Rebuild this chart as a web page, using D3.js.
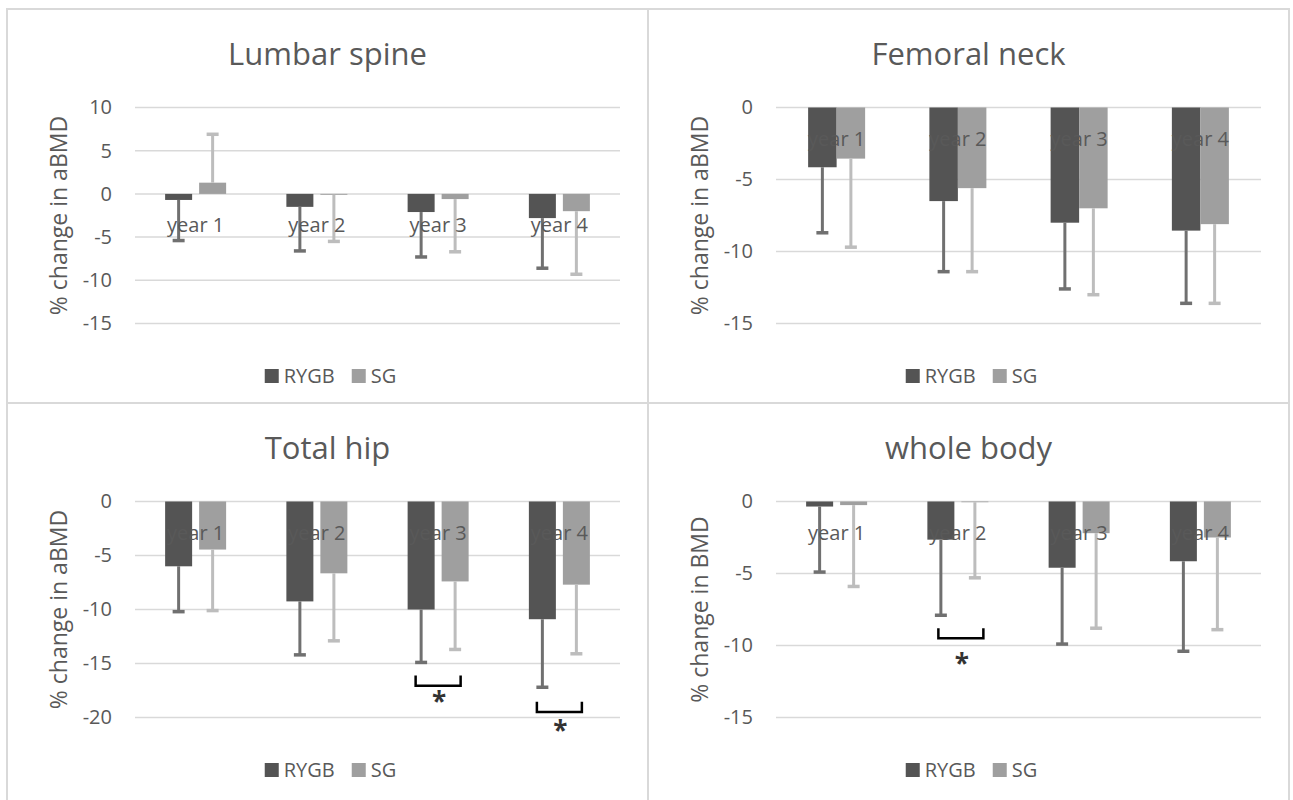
<!DOCTYPE html>
<html>
<head>
<meta charset="utf-8">
<script src="https://cdn.jsdelivr.net/npm/d3@7"></script>
<style>
  body { margin: 0; background: #fff; }
  text { font-family: "Open Sans", sans-serif; fill: #595959; }
</style>
</head>
<body>
<div id="chart"></div>
<script>
var svgWidth = 1293;
var svgHeight = 800;

// Categories and series
var years = ["year 1", "year 2", "year 3", "year 4"];
var seriesNames = ["RYGB", "SG"];

// Lumbar spine (% change, SD)
var lumbarRYGB = [-0.7, -1.5, -2.1, -2.8];
var lumbarRYGBsd = [4.7, 5.1, 5.2, 5.8];
var lumbarSG = [1.3, -0.1, -0.6, -2.0];
var lumbarSGsd = [5.6, 5.4, 6.1, 7.3];
var lumbarTicks = [10, 5, 0, -5, -10, -15];

// Femoral neck
var neckRYGB = [-4.15, -6.5, -8.0, -8.55];
var neckRYGBsd = [4.55, 4.9, 4.6, 5.05];
var neckSG = [-3.55, -5.6, -7.0, -8.1];
var neckSGsd = [6.15, 5.8, 6.0, 5.5];
var neckTicks = [0, -5, -10, -15];

// Total hip
var hipRYGB = [-6.0, -9.25, -10.0, -10.9];
var hipRYGBsd = [4.2, 4.95, 4.9, 6.3];
var hipSG = [-4.45, -6.65, -7.4, -7.7];
var hipSGsd = [5.65, 6.25, 6.3, 6.4];
var hipTicks = [0, -5, -10, -15, -20];
var hipSig = [
  { year: "year 3", top: -16.1, bottom: -17.05, star: -18.1 },
  { year: "year 4", top: -18.55, bottom: -19.5, star: -20.8 }
];

// Whole body
var bodyRYGB = [-0.35, -2.65, -4.6, -4.15];
var bodyRYGBsd = [4.55, 5.25, 5.3, 6.25];
var bodySG = [-0.25, -0.05, -2.2, -2.5];
var bodySGsd = [5.65, 5.25, 6.6, 6.4];
var bodyTicks = [0, -5, -10, -15];
var bodySig = [
  { year: "year 2", top: -8.8, bottom: -9.5, star: -10.95 }
];

var barColors = { RYGB: "#545454", SG: "#9f9f9f" };
var errColors = { RYGB: "#707070", SG: "#bdbdbd" };

var svg = d3.select("#chart")
  .append("svg")
  .attr("width", svgWidth)
  .attr("height", svgHeight);

var panels = [
  { x: 7, y: 9, title: "Lumbar spine", yTitle: "% change in aBMD", ticks: lumbarTicks,
    rygb: lumbarRYGB, rygbSd: lumbarRYGBsd, sg: lumbarSG, sgSd: lumbarSGsd, sig: [], barW: 27, gap: 7 },
  { x: 648, y: 9, title: "Femoral neck", yTitle: "% change in aBMD", ticks: neckTicks,
    rygb: neckRYGB, rygbSd: neckRYGBsd, sg: neckSG, sgSd: neckSGsd, sig: [], barW: 28.5, gap: 0 },
  { x: 7, y: 403, title: "Total hip", yTitle: "% change in aBMD", ticks: hipTicks,
    rygb: hipRYGB, rygbSd: hipRYGBsd, sg: hipSG, sgSd: hipSGsd, sig: hipSig, barW: 27, gap: 7 },
  { x: 648, y: 403, title: "whole body", yTitle: "% change in BMD", ticks: bodyTicks,
    rygb: bodyRYGB, rygbSd: bodyRYGBsd, sg: bodySG, sgSd: bodySGsd, sig: bodySig, barW: 27, gap: 7, sigShift: 3 }
];

panels.forEach(RenderPanel);

function RenderPanel(p) {
  var w = 641, h = 420;
  var g = svg.append("g");

  // panel frame
  g.append("rect")
    .attr("x", p.x).attr("y", p.y)
    .attr("width", w).attr("height", h)
    .attr("fill", "#fff")
    .attr("stroke", "#d9d9d9")
    .attr("stroke-width", 2);

  var left = p.x + 128, right = p.x + 613;
  var top = p.y + 98.5, bottom = p.y + 314.5;

  var yScale = d3.scaleLinear()
    .domain([d3.min(p.ticks), d3.max(p.ticks)])
    .range([bottom, top]);

  var x0 = d3.scaleBand().domain(years).range([left, right]);
  var half = p.barW + p.gap / 2;
  var x1 = d3.scaleBand().domain(seriesNames)
    .range([-half, half])
    .paddingInner(p.gap / (p.barW + p.gap));

  // gridlines
  g.selectAll(".grid")
    .data(p.ticks)
    .enter()
    .append("line")
    .attr("x1", left).attr("x2", right)
    .attr("y1", d => yScale(d)).attr("y2", d => yScale(d))
    .attr("stroke", "#d9d9d9")
    .attr("stroke-width", 1.5);

  // y axis labels (plain hyphen minus like the original)
  var axis = g.append("g")
    .attr("transform", `translate(${left}, 0)`)
    .call(d3.axisLeft(yScale).tickValues(p.ticks).tickFormat(d => String(d)).tickSize(0).tickPadding(23));
  axis.select(".domain").remove();
  axis.selectAll("text")
    .style("font-family", "'Open Sans', sans-serif")
    .style("font-size", "20px")
    .attr("fill", "#595959");

  // bars
  var rows = [];
  years.forEach(function(yr, i) {
    rows.push({ year: yr, s: "RYGB", v: p.rygb[i], sd: p.rygbSd[i] });
    rows.push({ year: yr, s: "SG", v: p.sg[i], sd: p.sgSd[i] });
  });

  var cx = d => x0(d.year) + x0.bandwidth() / 2 + x1(d.s);
  var y0 = yScale(0);

  g.selectAll(".bar")
    .data(rows)
    .enter()
    .append("rect")
    .attr("x", d => cx(d))
    .attr("y", d => Math.min(yScale(d.v), y0))
    .attr("width", x1.bandwidth())
    .attr("height", d => Math.abs(yScale(d.v) - y0))
    .attr("fill", d => barColors[d.s]);

  // error bars, away from zero
  var errEnd = d => yScale(d.v + (d.v >= 0 ? 1 : -1) * d.sd);
  var mid = d => cx(d) + x1.bandwidth() / 2;

  g.selectAll(".err")
    .data(rows)
    .enter()
    .append("line")
    .attr("x1", mid).attr("x2", mid)
    .attr("y1", d => yScale(d.v)).attr("y2", errEnd)
    .attr("stroke", d => errColors[d.s])
    .attr("stroke-width", 3);

  g.selectAll(".cap")
    .data(rows)
    .enter()
    .append("line")
    .attr("x1", d => mid(d) - 6).attr("x2", d => mid(d) + 6)
    .attr("y1", errEnd).attr("y2", errEnd)
    .attr("stroke", d => errColors[d.s])
    .attr("stroke-width", 3.5);

  // category labels
  g.selectAll(".cat")
    .data(years)
    .enter()
    .append("text")
    .attr("x", d => x0(d) + x0.bandwidth() / 2)
    .attr("y", y0 + 38.5)
    .attr("text-anchor", "middle")
    .style("font-size", "20px")
    .text(d => d);

  // significance brackets
  p.sig.forEach(function(s) {
    var c = x0(s.year) + x0.bandwidth() / 2 + (p.sigShift || 0);
    g.append("path")
      .attr("d", `M${c - 22.5},${yScale(s.top)}V${yScale(s.bottom)}H${c + 22.5}V${yScale(s.top)}`)
      .attr("fill", "none")
      .attr("stroke", "#000")
      .attr("stroke-width", 2.5);
    g.append("text")
      .attr("x", c + 1)
      .attr("y", yScale(s.star) + 14)
      .attr("text-anchor", "middle")
      .style("font-size", "26px")
      .style("font-weight", "bold")
      .style("fill", "#333")
      .text("*");
  });

  // title
  g.append("text")
    .attr("x", p.x + w / 2)
    .attr("y", p.y + 55.5)
    .attr("text-anchor", "middle")
    .style("font-size", "31px")
    .text(p.title);

  // y axis title
  g.append("text")
    .attr("transform", `translate(${p.x + 51}, ${(top + bottom) / 2}) rotate(-90)`)
    .attr("text-anchor", "middle")
    .attr("dominant-baseline", "central")
    .style("font-size", "23px")
    .text(p.yTitle);

  // legend
  var leg = g.append("g");
  var lx = 0;
  seriesNames.forEach(function(s) {
    leg.append("rect")
      .attr("x", lx).attr("y", -7)
      .attr("width", 14).attr("height", 14)
      .attr("fill", barColors[s]);
    var t = leg.append("text")
      .attr("x", lx + 19)
      .attr("y", 7)
      .style("font-size", "20px")
      .text(s);
    lx += 19 + t.node().getComputedTextLength() + 17;
  });
  var legW = lx - 17;
  leg.attr("transform", `translate(${p.x + w / 2 + 3 - legW / 2}, ${p.y + 367})`);
}
</script>
</body>
</html>
